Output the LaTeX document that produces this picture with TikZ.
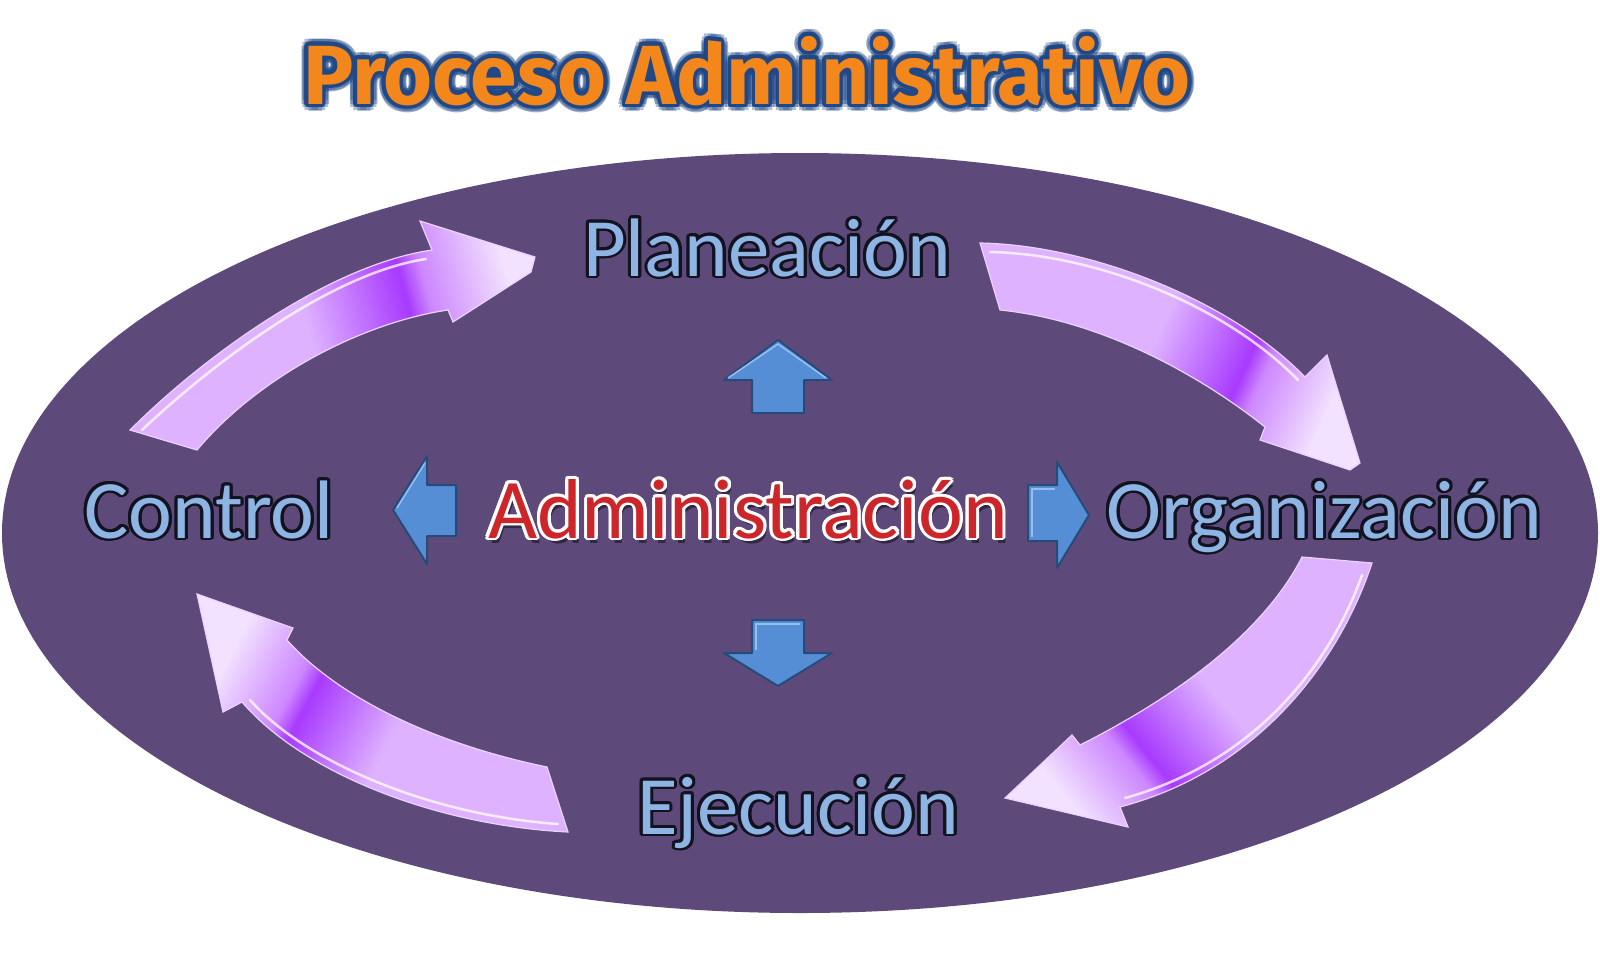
\documentclass[tikz,border=0pt]{standalone}
\usepackage{fontspec}
\setmainfont{Carlito}
\newfontfamily\titlefont{Fira Sans}
\usetikzlibrary{calc}
\definecolor{ellcol}{RGB}{94,74,122}
\definecolor{lblue}{RGB}{141,180,226}
\definecolor{dout}{RGB}{18,18,32}
\definecolor{admred}{RGB}{205,38,42}
\definecolor{torange}{RGB}{243,135,28}
\definecolor{tblue}{RGB}{32,72,135}
\definecolor{barrow}{RGB}{85,142,213}
\definecolor{bedge}{RGB}{38,75,122}
\definecolor{lav}{RGB}{222,178,255}
\definecolor{vivid}{RGB}{168,58,255}
\definecolor{hmid}{RGB}{205,135,255}
\definecolor{pale}{RGB}{242,225,255}
\definecolor{pedge}{RGB}{236,210,255}
\pgfdeclarehorizontalshading{purpleshade}{100bp}{color(0bp)=(lav); color(47bp)=(lav); color(61bp)=(vivid); color(64bp)=(hmid); color(75bp)=(pale); color(100bp)=(pale)}
\tikzset{
  purplearrow/.style={shading=purpleshade, draw=pedge, line width=1.2},
  hilite/.style={draw=white, opacity=0.75, line width=2.5, line cap=round},
  bluearrow/.style={fill=barrow, draw=bedge, line width=2, line join=round},
  bluebevel/.style={draw={rgb,255:red,150;green,190;blue,240}, line width=1.5, line join=round},
  lblfont/.style={font=\fontsize{83}{90}\selectfont},
  admfont/.style={font=\fontsize{85}{90}\selectfont},
}
\newcommand\glowtext[7]{%
  \foreach \ang in {0,20,...,340}
    \node[#3, text=#5, anchor=base, inner sep=0] (#1o\ang) at ($(#2)+(\ang:#6)$) {#7};
  \node[#3, text=#4, anchor=base, inner sep=0] (#1) at (#2) {#7};}
\begin{document}
\begin{tikzpicture}[x=1pt,y=-1pt]
\useasboundingbox (0,0) rectangle (1600,967);
\fill[white] (0,0) rectangle (1600,967);
\fill[ellcol] (800,533) ellipse [x radius=798pt, y radius=380pt];

% title
\foreach \ang in {0,30,...,330}
  \node[font=\titlefont\bfseries\fontsize{84}{90}\selectfont, text=tblue, opacity=0.35, anchor=base, inner sep=0] (tg\ang) at ($(747,104)+(\ang:7pt)$) {Proceso Administrativo};
\glowtext{title}{747,104}{font=\titlefont\bfseries\fontsize{84}{90}\selectfont}{torange}{tblue}{3.5pt}{Proceso Administrativo}

% purple curved arrows
\shadedraw[purplearrow, shading angle=15]
  (130,430) .. controls (205,355) and (330,265) .. (432,250) -- (420,221) -- (535,257) -- (531,272) -- (453,322) -- (448,310)
  .. controls (365,322) and (260,375) .. (197,450) -- cycle;
\draw[hilite] (142,430) .. controls (214,362) and (332,273) .. (426,259);

\shadedraw[purplearrow, shading angle=-24]
  (980,243) .. controls (1090,245) and (1230,300) .. (1305,377) -- (1327,355) -- (1360,463) -- (1350,470) -- (1260,440) -- (1265,427)
  .. controls (1200,375) and (1100,320) .. (1000,310) -- cycle;
\draw[hilite] (990,252) .. controls (1095,254) and (1225,305) .. (1298,380);

\shadedraw[purplearrow, shading angle=-141]
  (1302,557) -- (1372,563) .. controls (1340,660) and (1260,770) .. (1120,807) -- (1128,827) -- (1005,798) -- (1072,735) -- (1080,745)
  .. controls (1160,705) and (1260,640) .. (1302,557) -- cycle;
\draw[hilite] (1362,575) .. controls (1330,665) and (1255,762) .. (1125,798);

\shadedraw[purplearrow, shading angle=152]
  (197,594) -- (293,628) -- (287,640) .. controls (340,700) and (440,745) .. (547,767) -- (568,832)
  .. controls (430,825) and (300,770) .. (242,702) -- (223,712) -- cycle;
\draw[hilite] (250,700) .. controls (305,762) and (430,815) .. (558,824);

% blue block arrows
\draw[bluearrow] (778,340) -- (832,380) -- (804,380) -- (804,413) -- (752,413) -- (752,380) -- (724,380) -- cycle;
\draw[bluebevel] (728,378) -- (778,344) -- (826,378);
\draw[bluearrow] (778,686) -- (832,653) -- (804,653) -- (804,620) -- (752,620) -- (752,653) -- (724,653) -- cycle;
\draw[bluebevel] (756,650) -- (756,624) -- (800,624);
\draw[bluearrow] (393,510) -- (427,456) -- (427,485) -- (456,485) -- (456,536) -- (427,536) -- (427,564) -- cycle;
\draw[bluebevel] (397,508) -- (425,463);
\draw[bluearrow] (1089,515) -- (1057,462) -- (1057,485) -- (1028,485) -- (1028,541) -- (1057,541) -- (1057,568) -- cycle;
\draw[bluebevel] (1032,537) -- (1032,489) -- (1055,489);

% labels
\glowtext{plan}{767,276}{lblfont}{lblue}{dout}{3pt}{Planeación}
\glowtext{ctrl}{209,538}{lblfont}{lblue}{dout}{3pt}{Control}
\glowtext{org}{1324,538}{lblfont}{lblue}{dout}{3pt}{Organización}
\glowtext{eje}{798,834}{lblfont}{lblue}{dout}{3pt}{Ejecución}
\node[admfont, text=black, opacity=0.45, anchor=base, inner sep=0] (admshadow) at (751,543) {Administración};
\glowtext{adm}{748,538}{admfont}{admred}{white}{3pt}{Administración}
\end{tikzpicture}
\end{document}
